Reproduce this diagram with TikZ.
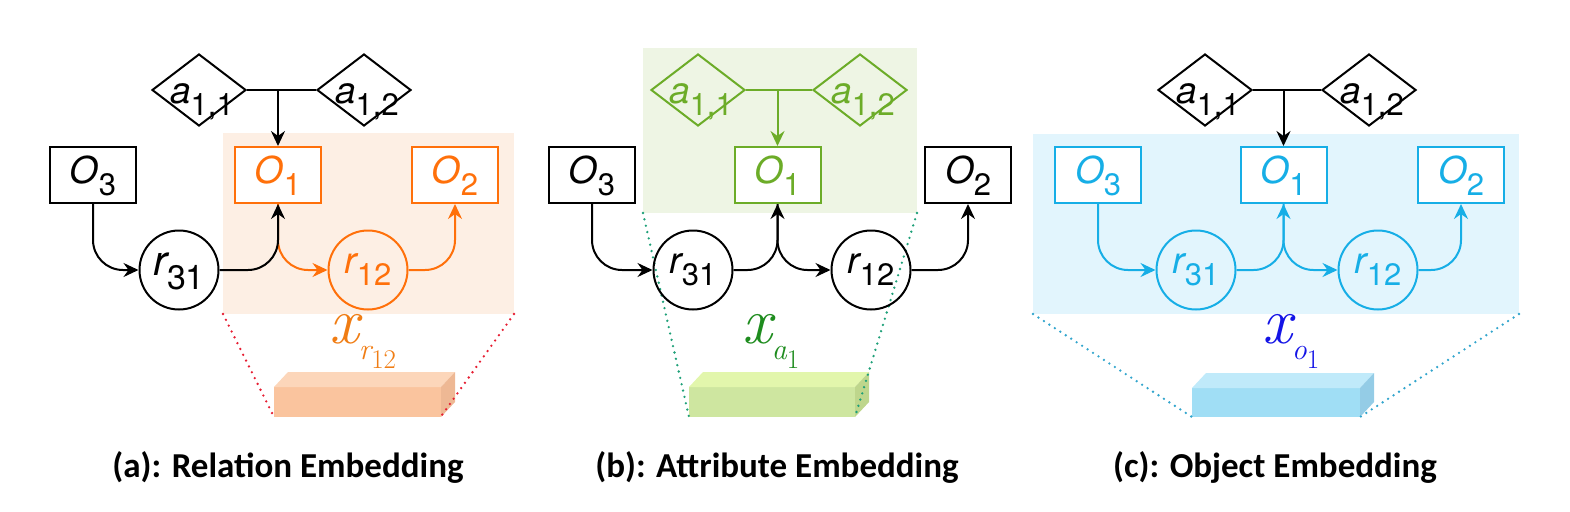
\documentclass[tikz,border=0pt]{standalone}
\usepackage{fontspec}
\setsansfont{TeX Gyre Heros}
\newfontfamily\ttlfont{Carlito}
\usetikzlibrary{shapes.geometric,arrows.meta}
\definecolor{orA}{RGB}{255,112,10}
\definecolor{bgA}{RGB}{253,239,228}
\definecolor{grB}{RGB}{108,172,40}
\definecolor{bgB}{RGB}{238,245,228}
\definecolor{blC}{RGB}{22,174,230}
\definecolor{bgC}{RGB}{226,245,253}
\definecolor{dotA}{RGB}{230,30,50}
\definecolor{dotB}{RGB}{30,160,120}
\definecolor{dotC}{RGB}{50,165,205}
\definecolor{xlA}{RGB}{240,125,20}
\definecolor{xlB}{RGB}{30,140,30}
\definecolor{xlC}{RGB}{20,20,230}
\definecolor{barAf}{RGB}{250,196,158}
\definecolor{barAt}{RGB}{252,214,186}
\definecolor{barAs}{RGB}{238,184,148}
\definecolor{barBf}{RGB}{206,230,160}
\definecolor{barBt}{RGB}{226,246,172}
\definecolor{barBs}{RGB}{190,214,140}
\definecolor{barCf}{RGB}{160,222,245}
\definecolor{barCt}{RGB}{192,234,250}
\definecolor{barCs}{RGB}{148,204,230}
\newcommand\mynlab[3]{\raisebox{-#3pt}[0pt][0pt]{\sffamily{\fontsize{37}{37}\selectfont\itshape #1}\raisebox{-12pt}{\fontsize{31}{31}\selectfont #2}}}
\newcommand\mynlabbig[3]{\raisebox{-#3pt}[0pt][0pt]{\sffamily{\fontsize{42}{42}\selectfont\itshape #1}\raisebox{-14pt}{\fontsize{34}{34}\selectfont #2}}}
\newcommand\myxlab[2]{\rmfamily{\fontsize{66}{66}\selectfont\itshape x}\raisebox{-16pt}{\fontsize{30}{30}\selectfont\itshape #1\upshape\raisebox{-9pt}{\fontsize{27}{27}\selectfont #2}}}
\newcommand\mybar[7]{%
  \fill[#5] (#1,#3) rectangle (#2,#4);
  \fill[#6] (#1,#3) -- (#1+14,#3-15) -- (#2+14,#3-15) -- (#2,#3) -- cycle;
  \fill[#7] (#2,#3) -- (#2+14,#3-15) -- (#2+14,#4-15) -- (#2,#4) -- cycle;
}
\begin{document}
\begin{tikzpicture}[x=1pt,y=-1pt,
  obox/.style={draw, line width=2pt, fill=white, minimum width=86pt, minimum height=56pt, inner sep=0pt},
  rcirc/.style={draw, circle, line width=2pt, minimum size=79pt, inner sep=0pt},
  attr/.style={draw, diamond, line width=2pt, minimum width=94pt, minimum height=72pt, inner sep=0pt},
  conn/.style={line width=2pt, rounded corners=30pt},
  arr/.style={conn, -{Stealth[length=15pt,width=14pt,inset=5pt]}},
  dotl/.style={line width=2.6pt, line cap=round, dash pattern=on 0pt off 6.5pt},
  ttl/.style={font=\ttlfont\bfseries\fontsize{35}{40}\selectfont, anchor=base, inner sep=0pt},
  xl/.style={anchor=base west, inner sep=0pt}]
\useasboundingbox (0,0) rectangle (1570,511);
% backgrounds
\fill[bgA] (223,133) rectangle (514,314);
\fill[bgB] (643,48) rectangle (917,213);
\fill[bgC] (1033,134) rectangle (1519,314);
% bars
\mybar{274}{441}{387}{417}{barAf}{barAt}{barAs}
\mybar{689}{855}{387}{417}{barBf}{barBt}{barBs}
\mybar{1192}{1360}{388}{417}{barCf}{barCt}{barCs}
% dotted lines
\draw[dotl, dotA] (223,314) -- (274,417);
\draw[dotl, dotA] (514,314) -- (442,415);
\draw[dotl, dotB] (643,213) -- (689,417);
\draw[dotl, dotB] (917,213) -- (855,417);
\draw[dotl, dotC] (1033,314) -- (1192,417);
\draw[dotl, dotC] (1519,314) -- (1360,417);

% ---------- panel (a)
\node[attr] (a-a11) at (199,90) {\hspace*{6pt}\mynlab{a}{1,1}{13}};
\node[attr] (a-a12) at (364,90) {\hspace*{6pt}\mynlab{a}{1,2}{13}};
\node[obox] (a-o3) at (93,175) {\mynlab{O}{3}{8}};
\node[obox, draw=orA, text=orA] (a-o1) at (278,175) {\mynlab{O}{1}{8}};
\node[obox, draw=orA, text=orA] (a-o2) at (455,175) {\mynlab{O}{2}{8}};
\node[rcirc] (a-r31) at (179,270) {\mynlabbig{r}{31}{5}};
\node[rcirc, draw=orA, text=orA] (a-r12) at (368,270) {\mynlab{r}{12}{3}};
\coordinate (a-j) at (a-a11.east -| a-o1.north);
\draw[conn] (a-a11.east) -- (a-a12.west);
\draw[arr] (a-j) -- (a-o1.north);
\draw[arr] (a-o3.south) |- (a-r31.west);
\draw[arr, orA] (a-o1.south) |- (a-r12.west);
\draw[arr, orA] (a-r12.east) -| (a-o2.south);
\draw[arr] (a-r31.east) -| (a-o1.south);
\node[xl, text=xlA] (a-x) at (329,343) {\myxlab{r}{12}};
\node[ttl] (a-t) at (288,477) {(a): Relation Embedding};

% ---------- panel (b)
\node[attr, draw=grB, text=grB] (b-a11) at (698,90) {\hspace*{6pt}\mynlab{a}{1,1}{13}};
\node[attr, draw=grB, text=grB] (b-a12) at (860,90) {\hspace*{6pt}\mynlab{a}{1,2}{13}};
\node[obox] (b-o3) at (592,175) {\mynlab{O}{3}{8}};
\node[obox, draw=grB, text=grB] (b-o1) at (777.5,175) {\mynlab{O}{1}{8}};
\node[obox] (b-o2) at (968,175) {\mynlab{O}{2}{8}};
\node[rcirc] (b-r31) at (693,270) {\mynlab{r}{31}{3}};
\node[rcirc] (b-r12) at (871,270) {\mynlab{r}{12}{3}};
\coordinate (b-j) at (b-a11.east -| b-o1.north);
\draw[conn, grB] (b-a11.east) -- (b-a12.west);
\draw[arr, grB] (b-j) -- (b-o1.north);
\draw[arr] (b-o3.south) |- (b-r31.west);
\draw[arr] (b-o1.south) |- (b-r12.west);
\draw[arr] (b-r12.east) -| (b-o2.south);
\draw[arr] (b-r31.east) -| (b-o1.south);
\node[xl, text=xlB] (b-x) at (742,343) {\myxlab{a}{1}};
\node[ttl] (b-t) at (777,477) {(b): Attribute Embedding};

% ---------- panel (c)
\node[attr] (c-a11) at (1205,90) {\hspace*{6pt}\mynlab{a}{1,1}{13}};
\node[attr] (c-a12) at (1369,90) {\hspace*{6pt}\mynlab{a}{1,2}{13}};
\node[obox, draw=blC, text=blC] (c-o3) at (1098,175) {\mynlab{O}{3}{8}};
\node[obox, draw=blC, text=blC] (c-o1) at (1283.5,175) {\mynlab{O}{1}{8}};
\node[obox, draw=blC, text=blC] (c-o2) at (1461,175) {\mynlab{O}{2}{8}};
\node[rcirc, draw=blC, text=blC] (c-r31) at (1196,270) {\mynlab{r}{31}{3}};
\node[rcirc, draw=blC, text=blC] (c-r12) at (1378,270) {\mynlab{r}{12}{3}};
\coordinate (c-j) at (c-a11.east -| c-o1.north);
\draw[conn] (c-a11.east) -- (c-a12.west);
\draw[arr] (c-j) -- (c-o1.north);
\draw[arr, blC] (c-o3.south) |- (c-r31.west);
\draw[arr, blC] (c-o1.south) |- (c-r12.west);
\draw[arr, blC] (c-r12.east) -| (c-o2.south);
\draw[arr, blC] (c-r31.east) -| (c-o1.south);
\node[xl, text=xlC] (c-x) at (1262,343) {\myxlab{o}{1}};
\node[ttl] (c-t) at (1275,477) {(c): Object Embedding};
\end{tikzpicture}
\end{document}
